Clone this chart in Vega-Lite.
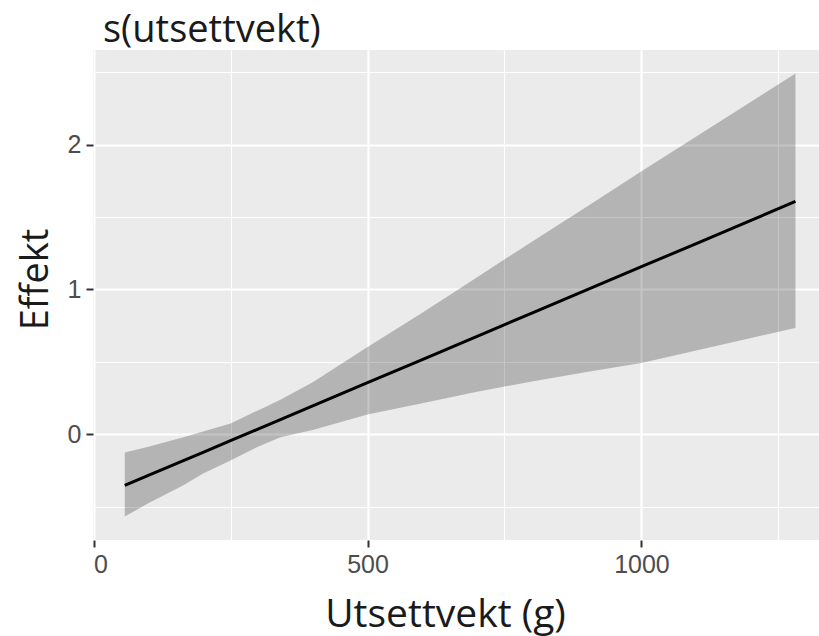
{
  "$schema": "https://vega.github.io/schema/vega-lite/v6.json",
  "width": 726,
  "height": 490,
  "autosize": {"type": "none"},
  "padding": {"left": 93, "top": 50, "right": 0, "bottom": 96},
  "background": "white",
  "config": {"view": {"fill": "#EBEBEB", "stroke": null}},
  "title": {
    "text": "s(utsettvekt)",
    "anchor": "start",
    "font": "Open Sans",
    "fontSize": 38,
    "fontWeight": "normal",
    "color": "#1a1a1a",
    "baseline": "alphabetic",
    "dx": 86,
    "dy": 39,
    "offset": 9
  },
  "data": {
    "values": [
      {"x": 57, "fit": -0.352, "lo": -0.566, "hi": -0.124},
      {"x": 100, "fit": -0.283, "lo": -0.475, "hi": -0.085},
      {"x": 164, "fit": -0.181, "lo": -0.35, "hi": -0.02},
      {"x": 200, "fit": -0.123, "lo": -0.27, "hi": 0.02},
      {"x": 250, "fit": -0.043, "lo": -0.179, "hi": 0.076},
      {"x": 300, "fit": 0.037, "lo": -0.085, "hi": 0.166},
      {"x": 341, "fit": 0.102, "lo": -0.02, "hi": 0.24},
      {"x": 400, "fit": 0.197, "lo": 0.03, "hi": 0.36},
      {"x": 500, "fit": 0.357, "lo": 0.137, "hi": 0.603},
      {"x": 600, "fit": 0.517, "lo": 0.216, "hi": 0.84},
      {"x": 700, "fit": 0.677, "lo": 0.295, "hi": 1.085},
      {"x": 800, "fit": 0.837, "lo": 0.365, "hi": 1.33},
      {"x": 900, "fit": 0.997, "lo": 0.43, "hi": 1.57},
      {"x": 1000, "fit": 1.157, "lo": 0.493, "hi": 1.815},
      {"x": 1100, "fit": 1.317, "lo": 0.58, "hi": 2.055},
      {"x": 1200, "fit": 1.477, "lo": 0.665, "hi": 2.295},
      {"x": 1281, "fit": 1.607, "lo": 0.735, "hi": 2.49}
    ]
  },
  "encoding": {
    "x": {
      "field": "x",
      "type": "quantitative",
      "scale": {"domain": [-1, 1324], "nice": false, "zero": false},
      "axis": {
        "title": "Utsettvekt (g)",
        "values": [0, 250, 500, 750, 1000, 1250],
        "labelExpr": "datum.value % 500 === 0 ? format(datum.value, 'd') : ''",
        "domain": false,
        "grid": true,
        "gridColor": "white",
        "gridWidth": {"condition": {"test": "datum.value % 500 === 0", "value": 2.2}, "value": 1.1},
        "tickColor": "#333333",
        "tickWidth": 2,
        "tickSize": 7,
        "tickOpacity": {"condition": {"test": "datum.value % 500 !== 0", "value": 0}, "value": 1},
        "labelFont": "Liberation Sans",
        "labelFontSize": 25,
        "labelColor": "#4D4D4D",
        "labelPadding": 5,
        "titleFont": "Open Sans",
        "titleFontSize": 39,
        "titleFontWeight": "normal",
        "titleColor": "#1a1a1a",
        "titleBaseline": "alphabetic",
        "titleX": 352,
        "titleY": 86
      }
    }
  },
  "layer": [
    {
      "mark": {"type": "area", "color": "black", "opacity": 0.23},
      "encoding": {
        "y": {
          "field": "lo",
          "type": "quantitative",
          "scale": {"domain": [-0.728, 2.652], "nice": false, "zero": false},
          "axis": {
            "title": "Effekt",
            "values": [-0.5, 0, 0.5, 1, 1.5, 2, 2.5],
            "labelExpr": "datum.value % 1 === 0 ? format(datum.value, 'd') : ''",
            "domain": false,
            "grid": true,
            "gridColor": "white",
            "gridWidth": {"condition": {"test": "datum.value % 1 === 0", "value": 2.2}, "value": 1.1},
            "tickColor": "#333333",
            "tickWidth": 2,
            "tickSize": 7,
            "tickOpacity": {"condition": {"test": "datum.value % 1 !== 0", "value": 0}, "value": 1},
            "labelFont": "Liberation Sans",
            "labelFontSize": 25,
            "labelColor": "#4D4D4D",
            "labelPadding": 5,
            "titleFont": "Open Sans",
            "titleFontSize": 38,
            "titleFontWeight": "normal",
            "titleColor": "#1a1a1a",
            "titleAngle": -90,
            "titleBaseline": "alphabetic",
            "titleAlign": "center",
            "titleX": -46,
            "titleY": 229
          }
        },
        "y2": {"field": "hi"}
      }
    },
    {
      "mark": {"type": "line", "color": "black", "strokeWidth": 3},
      "encoding": {
        "y": {"field": "fit", "type": "quantitative"}
      }
    }
  ]
}
